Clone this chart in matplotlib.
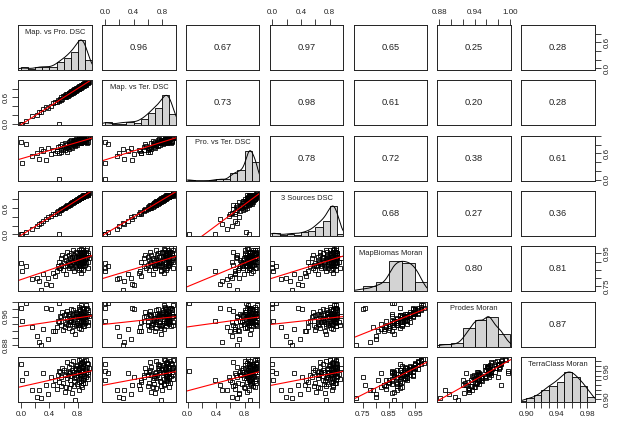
import numpy as np
import matplotlib
matplotlib.use("Agg")
import matplotlib.pyplot as plt

plt.rcParams['font.family'] = ['Liberation Sans', 'DejaVu Sans']

names = ["Map. vs Pro. DSC", "Map. vs Ter. DSC", "Pro. vs Ter. DSC", "3 Sources DSC",
         "MapBiomas Moran", "Prodes Moran", "TerraClass Moran"]

# one value per sample, same order in every list
map_pro = [0.00, 0.07, 0.01, 0.15, 0.22, 0.25, 0.28, 0.31, 0.35, 0.38, 0.42, 0.45, 0.48, 0.54,
           0.51, 0.52, 0.53, 0.55, 0.56, 0.57, 0.58, 0.59,
           0.61, 0.62, 0.62, 0.63, 0.64, 0.65, 0.65, 0.66, 0.67, 0.67, 0.68, 0.69, 0.69,
           0.70, 0.71, 0.71, 0.72, 0.72, 0.73, 0.73, 0.74, 0.74, 0.75, 0.75, 0.76, 0.76, 0.77, 0.77,
           0.78, 0.78, 0.79, 0.79,
           0.80, 0.80, 0.81, 0.81, 0.81, 0.82, 0.82, 0.82, 0.83, 0.83, 0.83, 0.84, 0.84, 0.84, 0.84,
           0.85, 0.85, 0.85, 0.85, 0.86, 0.86, 0.86, 0.86, 0.87, 0.87, 0.87, 0.87, 0.88, 0.88, 0.88,
           0.88, 0.89, 0.89, 0.89,
           0.90, 0.90, 0.91, 0.91, 0.92, 0.92, 0.93, 0.93, 0.94, 0.94, 0.95, 0.95, 0.96]
map_ter = [0.00, 0.05, 0.00, 0.17, 0.20, 0.27, 0.26, 0.33, 0.38, 0.36, 0.40, 0.47, 0.50, 0.00,
           0.49, 0.55, 0.51, 0.57, 0.54, 0.60, 0.56, 0.62,
           0.63, 0.60, 0.65, 0.61, 0.67, 0.63, 0.68, 0.64, 0.70, 0.65, 0.71, 0.67, 0.72,
           0.68, 0.74, 0.69, 0.75, 0.70, 0.76, 0.71, 0.77, 0.72, 0.78, 0.73, 0.79, 0.74, 0.80, 0.75,
           0.81, 0.76, 0.82, 0.77,
           0.83, 0.78, 0.84, 0.79, 0.83, 0.85, 0.80, 0.84, 0.86, 0.81, 0.85, 0.87, 0.82, 0.86, 0.85,
           0.88, 0.83, 0.87, 0.86, 0.89, 0.84, 0.88, 0.87, 0.90, 0.85, 0.89, 0.88, 0.91, 0.86, 0.90,
           0.89, 0.92, 0.87, 0.91,
           0.93, 0.88, 0.94, 0.89, 0.95, 0.90, 0.95, 0.92, 0.95, 0.93, 0.95, 0.94, 0.95]
pro_ter = [0.86, 0.82, 0.38, 0.55, 0.62, 0.48, 0.70, 0.66, 0.45, 0.72, 0.58, 0.67, 0.60, 0.015,
           0.66, 0.74, 0.62, 0.78, 0.69, 0.64, 0.81, 0.71,
           0.76, 0.68, 0.84, 0.73, 0.79, 0.63, 0.82, 0.75, 0.86, 0.70, 0.80, 0.88, 0.77,
           0.83, 0.90, 0.76, 0.85, 0.72, 0.89, 0.81, 0.87, 0.79, 0.92, 0.84, 0.88, 0.78, 0.91, 0.86,
           0.82, 0.93, 0.87, 0.80,
           0.90, 0.85, 0.94, 0.83, 0.89, 0.87, 0.86, 0.95, 0.88, 0.91, 0.84, 0.85, 0.89, 0.96, 0.87,
           0.88, 0.85, 0.94, 0.86, 0.95, 0.88, 0.93, 0.97, 0.91, 0.86, 0.95, 0.92, 0.96, 0.89, 0.94,
           0.90, 0.97, 0.93, 0.87,
           0.88, 0.91, 0.96, 0.86, 0.97, 0.89, 0.96, 0.84, 0.97, 0.95, 0.96, 0.87, 0.97]
three_src = [0.00, 0.05, 0.01, 0.12, 0.19, 0.24, 0.27, 0.30, 0.36, 0.39, 0.41, 0.46, 0.47, 0.00,
             0.50, 0.53, 0.49, 0.56, 0.55, 0.58, 0.57, 0.60,
             0.60, 0.63, 0.61, 0.64, 0.63, 0.66, 0.64, 0.65, 0.68, 0.66, 0.67, 0.70, 0.68,
             0.71, 0.70, 0.72, 0.71, 0.73, 0.72, 0.74, 0.73, 0.75, 0.74, 0.76, 0.75, 0.77, 0.76, 0.78,
             0.77, 0.79, 0.78, 0.80,
             0.79, 0.81, 0.80, 0.82, 0.80, 0.81, 0.83, 0.81, 0.82, 0.84, 0.82, 0.83, 0.85, 0.83, 0.82,
             0.84, 0.86, 0.84, 0.83, 0.85, 0.87, 0.85, 0.84, 0.86, 0.88, 0.86, 0.85, 0.87, 0.89, 0.87,
             0.86, 0.88, 0.90, 0.88,
             0.89, 0.89, 0.90, 0.89, 0.88, 0.90, 0.90, 0.89, 0.93, 0.90, 0.94, 0.90, 0.95]
mapbiomas_moran = [0.89, 0.87, 0.84, 0.79, 0.80, 0.78, 0.726, 0.82, 0.76, 0.80, 0.753, 0.83, 0.81, 0.86,
                   0.84, 0.87, 0.90, 0.86, 0.92, 0.88, 0.94, 0.85,
                   0.89, 0.93, 0.87, 0.91, 0.82, 0.96, 0.88, 0.90, 0.86, 0.94, 0.89, 0.92, 0.87,
                   0.91, 0.95, 0.88, 0.93, 0.86, 0.90, 0.97, 0.89, 0.92, 0.84, 0.94, 0.87, 0.91, 0.96,
                   0.88, 0.93, 0.90, 0.86, 0.95,
                   0.92, 0.89, 0.97, 0.85, 0.91, 0.94, 0.88, 0.93, 0.90, 0.96, 0.87, 0.92, 0.83, 0.95,
                   0.89, 0.91, 0.98, 0.86, 0.93, 0.90, 0.94, 0.88, 0.96, 0.91, 0.85, 0.92, 0.97, 0.89,
                   0.93, 0.95, 0.87, 0.90, 0.94, 0.96,
                   0.91, 0.88, 0.95, 0.92, 0.97, 0.89, 0.93, 0.984, 0.90, 0.94, 0.86, 0.95, 0.92]
prodes_moran = [0.985, 0.997, 0.948, 0.930, 0.907, 0.890, 0.881, 0.925, 0.985, 0.897, 0.980, 0.920,
                0.920, 0.997,
                0.930, 0.948, 0.944, 0.962, 0.958, 0.936, 0.972, 0.924,
                0.965, 0.946, 0.931, 0.968, 0.940, 0.975, 0.952, 0.938, 0.968, 0.962, 0.928, 0.950, 0.944,
                0.957, 0.982, 0.948, 0.965, 0.921, 0.946, 0.978, 0.953, 0.940, 0.934, 0.968, 0.911,
                0.962, 0.970, 0.937, 0.974, 0.958, 0.943, 0.966,
                0.963, 0.963, 0.987, 0.929, 0.947, 0.981, 0.936, 0.966, 0.964, 0.979, 0.942, 0.959,
                0.926, 0.969, 0.945, 0.961, 0.991, 0.948, 0.968, 0.939, 0.983, 0.957, 0.967, 0.952,
                0.933, 0.966, 0.982, 0.944, 0.962, 0.976, 0.949, 0.935, 0.958, 0.984,
                0.959, 0.941, 0.982, 0.948, 0.993, 0.965, 0.961, 0.985, 0.946, 0.967, 0.938, 0.979, 0.963]
terraclass_moran = [0.974, 0.955, 0.940, 0.920, 0.905, 0.920, 0.903, 0.956, 0.930, 0.910, 0.947,
                    0.930, 0.940, 0.960,
                    0.921, 0.952, 0.936, 0.958, 0.947, 0.928, 0.965, 0.934,
                    0.962, 0.951, 0.915, 0.957, 0.926, 0.978, 0.944, 0.952, 0.955, 0.968, 0.924,
                    0.940, 0.958,
                    0.949, 0.975, 0.932, 0.962, 0.913, 0.957, 0.981, 0.939, 0.944, 0.927, 0.952,
                    0.897, 0.967, 0.963, 0.946, 0.958, 0.970, 0.931, 0.973,
                    0.955, 0.961, 0.984, 0.936, 0.942, 0.966, 0.919, 0.964, 0.953, 0.972, 0.948,
                    0.945, 0.930, 0.977, 0.951, 0.968, 0.986, 0.938, 0.957, 0.926, 0.969, 0.962,
                    0.979, 0.944, 0.941, 0.958, 0.975, 0.935, 0.971, 0.966, 0.954, 0.948, 0.950, 0.980,
                    0.961, 0.933, 0.964, 0.956, 0.983, 0.947, 0.969, 0.976, 0.953, 0.958, 0.943,
                    0.974, 0.966]

# correlations printed in the upper panels, row by row
cor_row1 = ["0.96", "0.67", "0.97", "0.65", "0.25", "0.28"]
cor_row2 = ["0.73", "0.98", "0.61", "0.20", "0.28"]
cor_row3 = ["0.78", "0.72", "0.38", "0.61"]
cor_row4 = ["0.68", "0.27", "0.36"]
cor_row5 = ["0.80", "0.81"]
cor_row6 = ["0.87"]

# histogram bin width and axis tick step per variable
bin_width = [0.1, 0.1, 0.1, 0.1, 0.05, 0.02, 0.01]
tick_step = [0.2, 0.2, 0.2, 0.2, 0.05, 0.02, 0.01]
# labels R kept on the x axes (top/bottom) and y axes (left/right)
x_labels = [["0.0", "0.4", "0.8"], ["0.0", "0.4", "0.8"], ["0.0", "0.4", "0.8"],
            ["0.0", "0.4", "0.8"], ["0.75", "0.85", "0.95"], ["0.88", "0.94", "1.00"],
            ["0.90", "0.94", "0.98"]]
y_labels = [["0.0", "0.6"], ["0.0", "0.6"], ["0.0", "0.6"], ["0.0", "0.6"],
            ["0.75", "0.95"], ["0.88", "0.96"], ["0.90", "0.96"]]

data = [np.array(v, dtype=float) for v in
        [map_pro, map_ter, pro_ter, three_src, mapbiomas_moran, prodes_moran, terraclass_moran]]
cors = [cor_row1, cor_row2, cor_row3, cor_row4, cor_row5, cor_row6]
n = len(data)


def r_lims(x):
    d = x.max() - x.min()
    return x.min() - 0.04 * d, x.max() + 0.04 * d


def make_ticks(lo, hi, step):
    start = np.ceil(lo / step - 1e-9) * step
    return np.round(np.arange(start, hi + 1e-9, step), 4)


def tick_text(ticks, keep):
    out = []
    for t in ticks:
        lab = ""
        for s in keep:
            if abs(float(s) - t) < 1e-6:
                lab = s
        out.append(lab)
    return out


def r_hist(x, w):
    # right-closed bins like R's hist()
    edges = np.round(np.arange(np.floor(x.min() / w + 1e-9) * w, x.max() + w - 1e-9, w), 4)
    if edges[-1] < x.max() - 1e-9:
        edges = np.append(edges, np.round(edges[-1] + w, 4))
    shifted = edges + 1e-9
    shifted[0] = edges[0] - 1e-9
    counts, _ = np.histogram(x, bins=shifted)
    return counts, edges


def density(x):
    # gaussian kernel, bandwidth as R's bw.nrd0
    q75, q25 = np.percentile(x, [75, 25])
    bw = 0.9 * min(x.std(ddof=1), (q75 - q25) / 1.34) * len(x) ** -0.2
    grid = np.linspace(x.min() - 3 * bw, x.max() + 3 * bw, 512)
    dens = np.exp(-0.5 * ((grid[:, None] - x[None, :]) / bw) ** 2).sum(axis=1)
    return grid, dens / dens.max()


lims = [r_lims(x) for x in data]

fig, axes = plt.subplots(n, n, figsize=(6.18, 4.21), dpi=100)
fig.subplots_adjust(left=0.0296, right=0.9623, top=0.9406, bottom=0.0451,
                    wspace=0.139, hspace=0.229)

for i in range(n):
    for j in range(n):
        ax = axes[i, j]
        ax.set_xlim(lims[j])
        ax.set_ylim(lims[i])
        for sp in ax.spines.values():
            sp.set_linewidth(0.7)
            sp.set_color("#222222")
        ax.set_xticks([])
        ax.set_yticks([])

        if i == j:
            x = data[i]
            lo, hi = lims[i]
            counts, edges = r_hist(x, bin_width[i])
            h = counts / counts.max() * (hi - lo) / 1.5
            ax.bar(edges[:-1], h, width=np.diff(edges), bottom=lo, align="edge",
                   color="#d3d3d3", edgecolor="black", linewidth=0.6)
            gx, gy = density(x)
            ax.plot(gx, lo + gy * (hi - lo) / 1.5, color="black", lw=0.7)
            ax.text(0.5, 0.84, names[i], transform=ax.transAxes, ha="center", va="center",
                    fontsize=5.4, color="#222222")
        elif i > j:
            x, y = data[j], data[i]
            ax.plot(x, y, ls="none", marker="s", ms=3.2, mfc="none", mec="black", mew=0.6)
            slope, icpt = np.polyfit(x, y, 1)
            ax.axline((x.mean(), icpt + slope * x.mean()), slope=slope, color="red", lw=0.8)
        else:
            ax.text(0.5, 0.5, cors[i][j - i - 1], transform=ax.transAxes, ha="center",
                    va="center", fontsize=6.7, color="#222222")

        tp = dict(direction="out", length=4, width=0.6, labelsize=5.8, pad=2.5,
                  colors="#222222")
        if (i == 0 and j % 2 == 1) or (i == n - 1 and j % 2 == 0):
            t = make_ticks(*lims[j], tick_step[j])
            ax.set_xticks(t)
            ax.set_xticklabels(tick_text(t, x_labels[j]))
            top = i == 0
            ax.tick_params(axis="x", top=top, labeltop=top, bottom=not top,
                           labelbottom=not top, **tp)
        if (j == 0 and i % 2 == 1) or (j == n - 1 and i % 2 == 0):
            t = make_ticks(*lims[i], tick_step[i])
            ax.set_yticks(t)
            ax.set_yticklabels(tick_text(t, y_labels[i]), va="center")
            right = j == n - 1
            ax.tick_params(axis="y", right=right, labelright=right, left=not right,
                           labelleft=not right, labelrotation=90, **tp)

fig.savefig("out.png", dpi=100)
